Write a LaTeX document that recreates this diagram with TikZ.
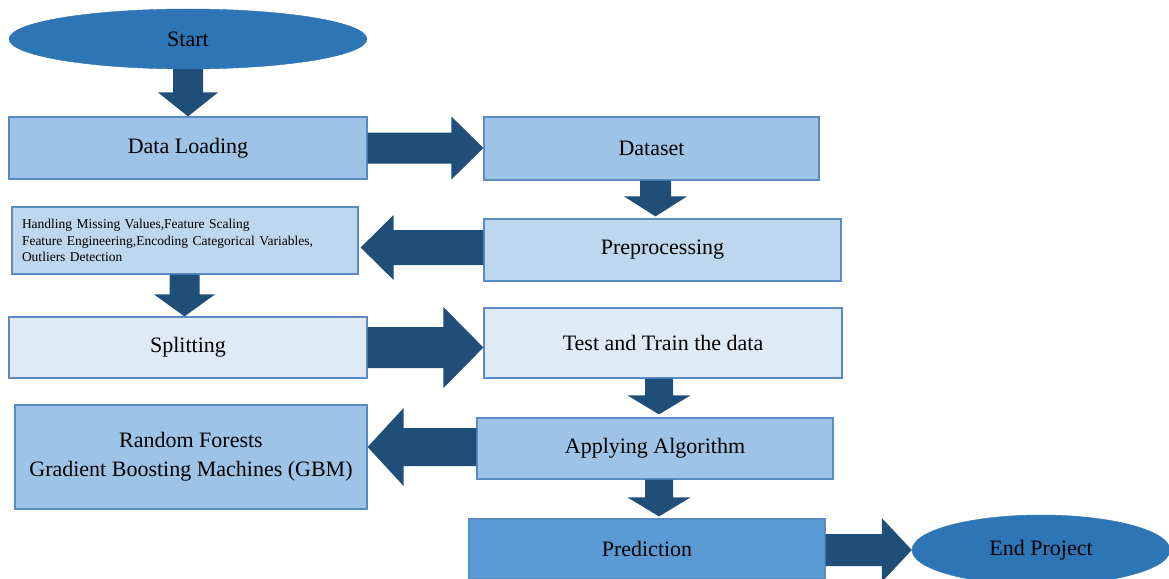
\documentclass[tikz,border=0pt]{standalone}
\usepackage{fontspec}
\setmainfont{Liberation Serif}
\usetikzlibrary{calc,shapes.geometric}
\definecolor{ellc}{HTML}{2E75B6}
\definecolor{arrc}{HTML}{1F4E79}
\definecolor{boxA}{HTML}{9DC3E6}
\definecolor{boxB}{HTML}{BDD7EE}
\definecolor{boxC}{HTML}{DEEBF7}
\definecolor{boxD}{HTML}{5B9BD5}
\definecolor{edgec}{HTML}{5B8BC4}
% #1 start, #2 tip, #3 shaft half width, #4 head half width, #5 head length
\newcommand\blockarrow[5]{%
  \coordinate (bah) at ($(#2)!#5!(#1)$);
  \fill[arrc] ($(#1)!#3!90:(#2)$) -- ($(bah)!#3!90:(#2)$) -- ($(bah)!#4!90:(#2)$)
    -- (#2) -- ($(bah)!#4!-90:(#2)$) -- ($(bah)!#3!-90:(#2)$) -- ($(#1)!#3!-90:(#2)$) -- cycle;}
\tikzset{
  mainfont/.style={font=\fontsize{22}{26}\selectfont},
  box/.style={rectangle, draw=edgec, line width=1.2pt, inner sep=0pt, mainfont, text=black},
  term/.style={ellipse, fill=ellc, draw=ellc, inner sep=0pt, mainfont, text=black},
}
\begin{document}
\begin{tikzpicture}[x=1pt,y=-1pt]
\useasboundingbox (0,0) rectangle (1169,578);
\fill[white] (0,0) rectangle (1169,578);
% terminals
\node[term, minimum width=358pt, minimum height=60pt] (start) at (188,39) {Start};
\node[term, minimum width=258pt, minimum height=70pt] (end) at (1041,550) {End Project};
% boxes
\node[box, fill=boxA, minimum width=358pt, minimum height=62pt] (load) at (188,148) {Data Loading};
\node[box, fill=boxA, minimum width=335pt, minimum height=63pt] (dataset) at (651.5,148.5) {Dataset};
\node[box, fill=boxB, minimum width=357pt, minimum height=62pt] (prep) at (662.5,250) {Preprocessing};
\node[box, fill=boxB, minimum width=346pt, minimum height=67pt] (handle) at (185,240.5) {};
\node[align=left, text width=326pt, inner sep=0pt, font=\fontsize{13.5}{16.5}\selectfont] (handletxt) at (handle.center)
  {Handling Missing Values,Feature Scaling\\Feature Engineering,Encoding Categorical Variables,\\Outliers Detection};
\node[box, fill=boxC, minimum width=358pt, minimum height=61pt] (split) at (188,347.5) {Splitting};
\node[box, fill=boxC, minimum width=358pt, minimum height=70pt] (test) at (663,343) {Test and Train the data};
\node[box, fill=boxA, minimum width=356pt, minimum height=61pt] (apply) at (655,448.5) {Applying Algorithm};
\node[box, fill=boxA, minimum width=352pt, minimum height=104pt, align=center, font=\fontsize{22}{29}\selectfont] (rf) at (191,457)
  {Random Forests\\Gradient Boosting Machines (GBM)};
\node[box, fill=boxD, minimum width=356pt, minimum height=60pt] (pred) at (647,549) {Prediction};
% connectors
\blockarrow{start.south}{load.north}{15pt}{30pt}{24pt}
\coordinate (a2e) at (load.east -| dataset.west);
\blockarrow{load.east}{a2e}{15.5pt}{31.5pt}{32pt}
\coordinate (a3s) at ($(dataset.south)+(4,0)$);
\coordinate (a3e) at ($(a3s |- prep.north)+(0,-2)$);
\blockarrow{a3s}{a3e}{15.5pt}{31.5pt}{20pt}
\coordinate (a4s) at ($(prep.west)+(0,-2.5)$);
\coordinate (a4e) at ($(a4s -| handle.east)+(2,0)$);
\blockarrow{a4s}{a4e}{17.5pt}{32.5pt}{33pt}
\coordinate (a5s) at ($(handle.south)+(-0.5,0)$);
\coordinate (a5e) at (a5s |- split.north);
\blockarrow{a5s}{a5e}{15pt}{30.5pt}{22pt}
\coordinate (a6e) at (split.east -| test.west);
\blockarrow{split.east}{a6e}{20.5pt}{40.5pt}{40pt}
\coordinate (a7s) at ($(test.south)+(-4,0)$);
\coordinate (a7e) at ($(a7s |- apply.north)+(0,-3)$);
\blockarrow{a7s}{a7e}{14pt}{31.5pt}{19pt}
\coordinate (a8s) at ($(apply.west)+(0,-1.5)$);
\coordinate (a8e) at (a8s -| rf.east);
\blockarrow{a8s}{a8e}{19pt}{39pt}{36pt}
\coordinate (a9s) at ($(apply.south)+(4,0)$);
\coordinate (a9e) at ($(a9s |- pred.north)+(0,-2)$);
\blockarrow{a9s}{a9e}{14pt}{31.5pt}{19pt}
\coordinate (a10s) at ($(pred.east)+(0,1)$);
\coordinate (a10e) at (end.west);
\blockarrow{a10s}{a10e}{16pt}{32pt}{30pt}
\end{tikzpicture}
\end{document}
